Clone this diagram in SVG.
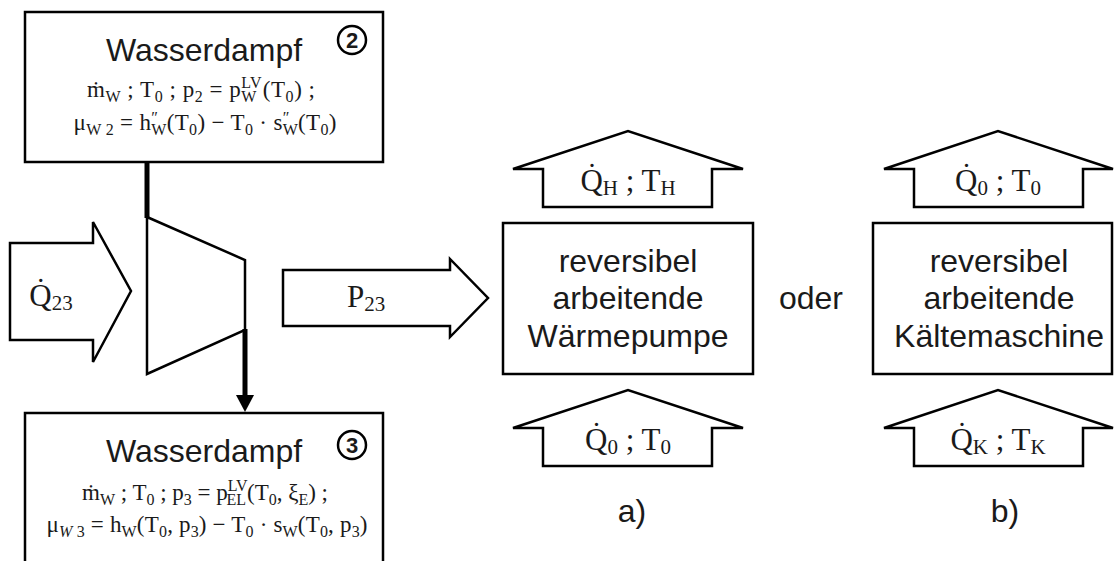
<svg xmlns="http://www.w3.org/2000/svg" width="1115" height="561" viewBox="0 0 1115 561">
  <style>
    .box { fill: #ffffff; stroke: #000000; stroke-width: 2.5; }
    .shape { fill: #ffffff; stroke: #000000; stroke-width: 2.5; stroke-linejoin: miter; }
    .pipe { fill: none; stroke: #000000; stroke-width: 5; }
    .label { font-family: "Liberation Sans", Arial, sans-serif; font-size: 32px; fill: #1a1a1a; text-anchor: middle; }
    .num { font-family: "Liberation Sans", Arial, sans-serif; font-size: 22px; font-weight: bold; fill: #1a1a1a; text-anchor: middle; }
    .math { font-family: "Liberation Serif", "DejaVu Serif", serif; font-size: 23px; fill: #1a1a1a; text-anchor: middle; }
    .big { font-family: "Liberation Serif", "DejaVu Serif", serif; font-size: 31px; fill: #1a1a1a; text-anchor: middle; }
    .s { font-size: 16px; }
    .bs { font-size: 21px; }
    .ring { fill: none; stroke: #000000; stroke-width: 2.5; }
  </style>

  <!-- state 2: steam entering the turbine -->
  <g id="state2">
    <rect class="box" x="25" y="12" width="358" height="150"/>
    <text class="label" x="204" y="61">Wasserdampf</text>
    <circle class="ring" cx="352" cy="40" r="14"/>
    <text class="num" x="352" y="48">2</text>
    <text class="math" x="201" y="97" textLength="228" lengthAdjust="spacing">ṁ<tspan class="s" dy="5">W</tspan><tspan dy="-5"> ; T</tspan><tspan class="s" dy="5">0</tspan><tspan dy="-5"> ; p</tspan><tspan class="s" dy="5">2</tspan><tspan dy="-5"> = p</tspan><tspan class="s" dy="-9">LV</tspan><tspan class="s" dx="-21" dy="14">W</tspan><tspan dx="6" dy="-5">(T</tspan><tspan class="s" dy="5">0</tspan><tspan dy="-5">) ;</tspan></text>
    <text class="math" x="205" y="130" textLength="263" lengthAdjust="spacing">μ<tspan class="s" dy="5">W 2</tspan><tspan dy="-5"> = h</tspan><tspan class="s" dy="-7">″</tspan><tspan class="s" dx="-7" dy="12">W</tspan><tspan dy="-5">(T</tspan><tspan class="s" dy="5">0</tspan><tspan dy="-5">) − T</tspan><tspan class="s" dy="5">0</tspan><tspan dy="-5"> · s</tspan><tspan class="s" dy="-7">″</tspan><tspan class="s" dx="-7" dy="12">W</tspan><tspan dy="-5">(T</tspan><tspan class="s" dy="5">0</tspan><tspan dy="-5">)</tspan></text>
  </g>

  <!-- state 3: steam leaving the turbine -->
  <g id="state3">
    <rect class="box" x="25" y="413" width="358" height="170"/>
    <text class="label" x="204" y="462">Wasserdampf</text>
    <circle class="ring" cx="352" cy="445" r="14"/>
    <text class="num" x="352" y="453">3</text>
    <text class="math" x="205" y="500" textLength="246" lengthAdjust="spacing">ṁ<tspan class="s" dy="5">W</tspan><tspan dy="-5"> ; T</tspan><tspan class="s" dy="5">0</tspan><tspan dy="-5"> ; p</tspan><tspan class="s" dy="5">3</tspan><tspan dy="-5"> = p</tspan><tspan class="s" dy="-9">LV</tspan><tspan class="s" dx="-21" dy="14">EL</tspan><tspan dx="1" dy="-5">(T</tspan><tspan class="s" dy="5">0</tspan><tspan dy="-5">, ξ</tspan><tspan class="s" dy="5">E</tspan><tspan dy="-5">) ;</tspan></text>
    <text class="math" x="207" y="532" textLength="321" lengthAdjust="spacing">μ<tspan class="s" dy="5" font-style="italic">W</tspan><tspan class="s"> 3</tspan><tspan dy="-5"> = h</tspan><tspan class="s" dy="5">W</tspan><tspan dy="-5">(T</tspan><tspan class="s" dy="5">0</tspan><tspan dy="-5">, p</tspan><tspan class="s" dy="5">3</tspan><tspan dy="-5">) − T</tspan><tspan class="s" dy="5">0</tspan><tspan dy="-5"> · s</tspan><tspan class="s" dy="5">W</tspan><tspan dy="-5">(T</tspan><tspan class="s" dy="5">0</tspan><tspan dy="-5">, p</tspan><tspan class="s" dy="5">3</tspan><tspan dy="-5">)</tspan></text>
  </g>

  <!-- turbine -->
  <g id="turbine">
    <polygon class="shape" points="147,217 245,260 245,330 147,374"/>
  </g>

  <!-- heat input to the turbine -->
  <g id="heat-in">
    <polygon class="shape" points="10,243 93,243 93,222 131,291 93,362 93,340 10,340"/>
    <text class="big" x="51" y="306">Q̇<tspan class="bs" dy="4">23</tspan></text>
  </g>

  <!-- power output -->
  <g id="power">
    <polygon class="shape" points="283,270 450,270 450,259 488,298 450,337 450,326 283,326"/>
    <text class="big" x="366" y="307">P<tspan class="bs" dy="4">23</tspan></text>
  </g>

  <!-- a) heat pump -->
  <g id="heatpump">
    <rect class="box" x="503" y="223" width="250" height="151"/>
    <text class="label" x="628" y="272">reversibel</text>
    <text class="label" x="628" y="309">arbeitende</text>
    <text class="label" x="628" y="347">Wärmepumpe</text>
  </g>
  <g id="heatpump-out">
    <polygon class="shape" points="513,169 543,169 543,207 712,207 712,169 743,169 628,131"/>
    <text class="big" x="628" y="191">Q̇<tspan class="bs" dy="4">H</tspan><tspan dy="-4"> ; T</tspan><tspan class="bs" dy="4">H</tspan></text>
  </g>
  <g id="heatpump-in">
    <polygon class="shape" points="513,428 543,428 543,466 712,466 712,428 743,428 628,390"/>
    <text class="big" x="628" y="450">Q̇<tspan class="bs" dy="4">0</tspan><tspan dy="-4"> ; T</tspan><tspan class="bs" dy="4">0</tspan></text>
  </g>
  <text class="label" x="632" y="522">a)</text>

  <text class="label" x="811" y="309">oder</text>

  <!-- b) refrigerator -->
  <g id="chiller">
    <rect class="box" x="873" y="223" width="239" height="151"/>
    <text class="label" x="999" y="272">reversibel</text>
    <text class="label" x="999" y="309">arbeitende</text>
    <text class="label" x="999" y="347">Kältemaschine</text>
  </g>
  <g id="chiller-out">
    <polygon class="shape" points="884,169 914,169 914,207 1083,207 1083,169 1113,169 998,131"/>
    <text class="big" x="998" y="191">Q̇<tspan class="bs" dy="4">0</tspan><tspan dy="-4"> ; T</tspan><tspan class="bs" dy="4">0</tspan></text>
  </g>
  <g id="chiller-in">
    <polygon class="shape" points="884,428 914,428 914,466 1083,466 1083,428 1113,428 998,390"/>
    <text class="big" x="998" y="450">Q̇<tspan class="bs" dy="4">K</tspan><tspan dy="-4"> ; T</tspan><tspan class="bs" dy="4">K</tspan></text>
  </g>
  <text class="label" x="1005" y="522">b)</text>

  <!-- steam lines -->
  <g id="connectors">
    <line class="pipe" x1="147" y1="162" x2="147" y2="218"/>
    <line class="pipe" x1="245" y1="329" x2="245" y2="396"/>
    <polygon points="236,395 254,395 245,412" fill="#000000"/>
  </g>
</svg>
